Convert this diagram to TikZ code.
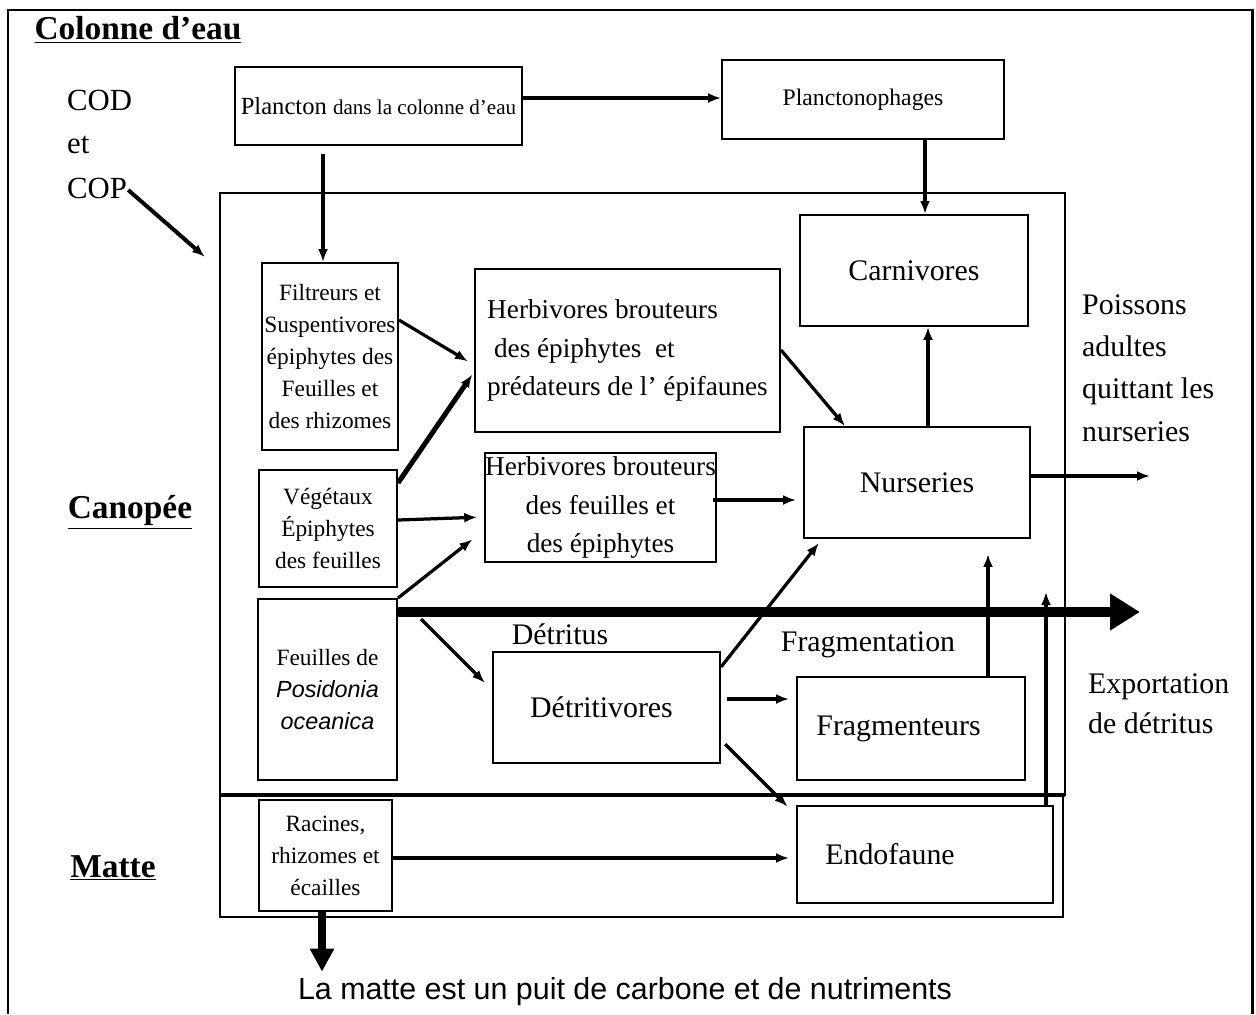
\documentclass[tikz,border=0pt]{standalone}
\usepackage{fontspec}
\setmainfont{Liberation Serif}
\newfontfamily\arialfont{Liberation Sans}
\usepackage{xcolor}
\usetikzlibrary{arrows.meta}

\tikzset{
  box/.style={draw, line width=0.04cm, inner sep=0pt, align=center},
  flow/.style={line width=0.065cm, -{Latex[length=0.26cm,width=0.2cm]}},
  big/.style={font=\fontsize{17}{23}\selectfont},
  mid/.style={font=\fontsize{15.5}{21.8}\selectfont},
  small/.style={font=\fontsize{13.3}{18.2}\selectfont},
  head/.style={font=\fontsize{19}{22}\selectfont\bfseries},
}

\begin{document}
\begin{tikzpicture}[x=0.02cm, y=-0.02cm]
\useasboundingbox (0,0) rectangle (1256,1014);
\draw[line width=0.06cm] (8,1014) -- (8,10) -- (1252,10) -- (1252,1014);
\draw[line width=0.04cm] (220,193) rectangle (1065,795);
\draw[line width=0.04cm] (220,795) rectangle (1063,917);
\draw[line width=0.07cm] (220,795) -- (1065,795);

\node[head] (colonne) at (138,30) {\underline{Colonne d'eau}};
\node[head] (canop) at (130,512) {\underline{Canopée}};
\node[head] (matte) at (113,868) {\underline{Matte}};
\node[anchor=west, font=\fontsize{17.5}{20}\selectfont] (cod) at (61,100) {COD};
\node[anchor=west, font=\fontsize{17.5}{20}\selectfont] (et) at (61,145) {et};
\node[anchor=west, font=\fontsize{17.5}{20}\selectfont] (cop) at (61,188) {COP};
\coordinate (canin) at (205,257);

\node[box, minimum width=5.74cm, minimum height=1.56cm] (planc) at (378.5,106)
  {\fontsize{14}{16}\selectfont Plancton {\fontsize{12}{14}\selectfont dans la colonne d'eau}};
\node[box, minimum width=5.64cm, minimum height=1.58cm, font=\fontsize{13.5}{16}\selectfont] (planco) at (863,99.5) {Planctonophages};
\node[box, big, minimum width=4.56cm, minimum height=2.22cm] (carn) at (914,270.5) {Carnivores};
\node[box, small, minimum width=2.72cm, minimum height=3.74cm] (filt) at (330,356.5)
  {Filtreurs et\\Suspentivores\\épiphytes des\\Feuilles et\\des rhizomes};
\node[box, mid, minimum width=6.1cm, minimum height=3.26cm, align=left] (herb1) at (627.5,350.5)
  {Herbivores brouteurs\\\ des épiphytes\ \ et\\prédateurs de l' épifaunes};
\node[box, small, minimum width=2.76cm, minimum height=2.34cm] (vege) at (328,528.5)
  {Végétaux\\Épiphytes\\des feuilles};
\node[box, mid, minimum width=4.54cm, minimum height=2.18cm] (herb2) at (600.5,507.5)
  {Herbivores brouteurs\\des feuilles et\\des épiphytes};
\node[box, big, minimum width=4.52cm, minimum height=2.22cm] (nurs) at (917,482.5) {Nurseries};
\node[box, small, minimum width=2.78cm, minimum height=3.62cm] (feuil) at (327.5,689.5)
  {Feuilles de\\{\arialfont\itshape Posidonia}\\{\arialfont\itshape oceanica}};
\node[box, big, minimum width=4.54cm, minimum height=2.22cm] (detv) at (606.5,707.5) {Détritivores\hspace{0.2cm}};
\node[box, big, minimum width=4.56cm, minimum height=2.06cm] (frag) at (911,728.5) {Fragmenteurs\hspace{0.5cm}};
\node[box, big, minimum width=5.12cm, minimum height=1.94cm] (endo) at (925,854.5) {Endofaune\hspace{1.4cm}};
\node[box, small, minimum width=2.66cm, minimum height=2.22cm] (rac) at (325.5,855.5)
  {Racines,\\rhizomes et\\écailles};

\node[big] (detlab) at (560,634) {Détritus};
\node[big] (fraglab) at (868,645) {Fragmentation};
\node[big, anchor=west, align=left] (export) at (1082,704) {Exportation\\de détritus};
\node[big, anchor=west, align=left, font=\fontsize{17}{24}\selectfont] (poissons) at (1076,368)
  {Poissons\\adultes\\quittant les\\nurseries};
\node[font=\arialfont\fontsize{17.3}{20}\selectfont] (puit) at (625,992)
  {La matte est un puit de carbone et de nutriments};
\coordinate (poisout) at (1150,476);
\coordinate (expend) at (1140,612);
\coordinate (exptop) at (1046,592);

\draw[flow] (planc.east |- 0,98) -- (planco.west |- 0,98);
\draw[flow, shorten <=0.16cm] (planc.south -| 323,0) -- (filt.north -| 323,0);
\draw[flow] (planco.south -| 925,0) -- (carn.north -| 925,0);
\draw[flow, line width=0.08cm] ([xshift=-0.1cm,yshift=-0.04cm]cop.east) -- (canin);
\draw[flow, shorten >=0.14cm] (filt.east |- 0,320) -- (herb1.west |- 0,365);
\draw[flow, line width=0.1cm, shorten >=0.06cm] (vege.east |- 0,483) -- (herb1.west |- 0,372);
\draw[flow, shorten >=0.14cm] (vege.east |- 0,520) -- (herb2.west |- 0,517);
\draw[flow, shorten >=0.3cm] (feuil.north east) -- (herb2.west |- 0,530);
\draw[flow, shorten >=0.2cm] ([xshift=0.46cm,yshift=-0.42cm]feuil.north east) -- (detv.west |- 0,690);
\draw[flow] (herb1.east |- 0,350) -- (nurs.north -| 845,0);
\draw[flow, shorten >=0.14cm] ([xshift=-0.08cm]herb2.east |- 0,500) -- (nurs.west |- 0,500);
\draw[flow] (nurs.north -| 928,0) -- (carn.south -| 928,0);
\draw[flow] (nurs.east |- 0,476) -- (poisout);
\draw[flow, shorten >=0.1cm] (detv.east |- 0,667) -- (nurs.south -| 822,0);
\draw[flow, shorten <=0.12cm, shorten >=0.14cm] (detv.east |- 0,699) -- (frag.west |- 0,699);
\draw[flow, shorten <=0.12cm, shorten >=0.24cm] (detv.east |- 0,740) -- (endo.west |- 0,815);
\draw[flow, shorten >=0.3cm] (frag.north -| 988,0) -- (nurs.south -| 988,0);
\draw[flow] (endo.north -| 1046,0) -- (exptop);
\draw[flow, shorten >=0.14cm] (rac.east |- 0,858) -- (endo.west |- 0,858);
\draw[line width=0.16cm, -{Triangle[length=0.46cm,width=0.46cm]}] (rac.south -| 322,0) -- (puit.north -| 322,0);
\draw[line width=0.2cm, -{Triangle[length=0.6cm,width=0.7cm]}] (feuil.east |- 0,612) -- (expend);
\end{tikzpicture}
\end{document}
